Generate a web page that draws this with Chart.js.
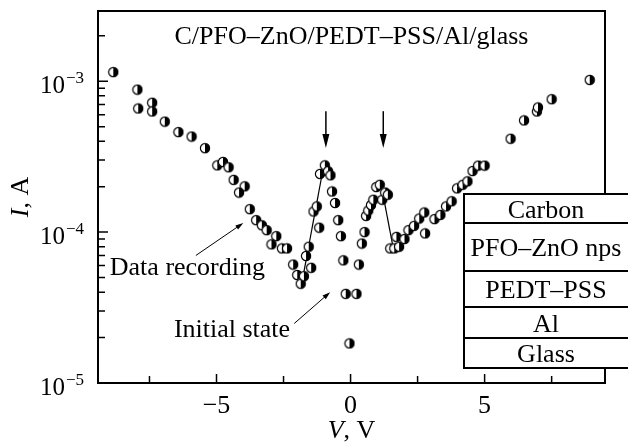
<!DOCTYPE html>
<html>
<head>
<meta charset="utf-8">
<script src="https://cdn.jsdelivr.net/npm/chart.js@4/dist/chart.umd.min.js"></script>
<style>
  body { margin: 0; background: #fff; }
  canvas { display: block; }
</style>
</head>
<body>
<canvas id="ivChart" width="628" height="443"></canvas>
<script>
  // I-V data (V in volts, I in amperes)
  const voltage = [
    -8.85, -7.95, -7.92, -7.40, -7.40, -6.93, -6.42, -5.93, -5.43, -4.97,
    -4.76, -4.55, -4.36, -3.95, -4.16, -3.76, -3.52, -3.31, -3.13, -2.77,
    -2.95, -2.56, -2.37, -2.14, -1.99, -1.86, -1.74, -1.47, -1.66, -1.56,
    -1.17, -1.38, -1.26, -1.14, -0.96, -0.84, -0.75, -0.69, -0.58, -0.46,
    -0.36, -0.27, -0.18, -0.04, 0.22, 0.31, 0.42, 0.52, 0.58, 0.66,
    0.76, 0.85, 0.96, 1.09, 1.18, 1.29, 1.39, 1.48, 1.63, 1.71,
    1.81, 2.01, 2.16, 2.37, 2.56, 2.75, 2.78, 3.13, 3.35, 3.56,
    3.77, 3.97, 4.18, 4.36, 4.55, 4.76, 5.00, 5.97, 6.47, 6.95,
    6.99, 7.50, 8.92
  ];
  const current = [
    1.15e-3, 8.8e-4, 6.6e-4, 7.2e-4, 6.3e-4, 5.4e-4, 4.6e-4, 4.3e-4, 3.6e-4, 2.77e-4,
    2.92e-4, 2.69e-4, 2.22e-4, 2.01e-4, 1.83e-4, 1.42e-4, 1.2e-4, 1.11e-4, 1.03e-4, 9.4e-5,
    8.3e-5, 7.8e-5, 7.8e-5, 6.1e-5, 5.2e-5, 4.55e-5, 5.1e-5, 5.8e-5, 6.95e-5, 8.0e-5,
    1.07e-4, 1.37e-4, 1.48e-4, 2.43e-4, 2.77e-4, 2.53e-4, 2.38e-4, 1.86e-4, 1.56e-4, 1.2e-4,
    9.4e-5, 6.5e-5, 3.9e-5, 1.83e-5, 3.9e-5, 6.1e-5, 8.4e-5, 1.0e-4, 1.28e-4, 1.39e-4,
    1.51e-4, 1.64e-4, 1.99e-4, 2.06e-4, 1.64e-4, 1.83e-4, 1.77e-4, 7.8e-5, 7.8e-5, 9.3e-5,
    8.0e-5, 9.0e-5, 1.03e-4, 1.1e-4, 1.23e-4, 1.35e-4, 9.8e-5, 1.22e-4, 1.3e-4, 1.48e-4,
    1.6e-4, 1.95e-4, 2.06e-4, 2.17e-4, 2.54e-4, 2.76e-4, 2.76e-4, 4.16e-4, 5.5e-4, 6.3e-4,
    6.7e-4, 7.6e-4, 1.02e-3
  ];

  // the two switching jumps drawn as straight segments
  const jumpUpV = [-1.74, -1.0];
  const jumpUpI = [5.45e-5, 2.77e-4];
  const jumpDownV = [1.25, 1.57];
  const jumpDownI = [1.63e-4, 8.2e-5];

  // axis ticks
  const xMajorTicks = [-5, 0, 5];
  const xMinorTicks = [-7.5, -2.5, 2.5, 7.5];
  const yDecades = [-5, -4, -3];

  // annotations
  const title = 'C/PFO–ZnO/PEDT–PSS/Al/glass';
  const peakArrowV = [-0.92, 1.22];
  const peakArrowI = [6.33e-4, 3.61e-4]; // tail, tip
  const notes = [
    { text: 'Data recording', v: -8.98, i: 5.18e-5, from: [-5.77, 7.0e-5], to: [-4.0, 1.15e-4] },
    { text: 'Initial state', v: -6.59, i: 2.01e-5, from: [-2.10, 2.48e-5], to: [-0.76, 4.0e-5] }
  ];
  const layers = ['Carbon', 'PFO–ZnO nps', 'PEDT–PSS', 'Al', 'Glass'];

  const serif = '"Liberation Serif", "Times New Roman", serif';

  function halfDot(r) {
    const c = document.createElement('canvas');
    const s = 2 * r + 2;
    c.width = s; c.height = s;
    const g = c.getContext('2d');
    const m = s / 2;
    g.fillStyle = '#fff';
    g.beginPath(); g.arc(m, m, r, 0, 2 * Math.PI); g.fill();
    g.fillStyle = '#000';
    g.beginPath(); g.moveTo(m, m); g.arc(m, m, r, -Math.PI / 2, Math.PI / 2); g.closePath(); g.fill();
    g.strokeStyle = '#000'; g.lineWidth = 1.2;
    g.beginPath(); g.arc(m, m, r - 0.4, 0, 2 * Math.PI); g.stroke();
    return c;
  }

  function arrow(ctx, x1, y1, x2, y2, len, half, lw) {
    const ang = Math.atan2(y2 - y1, x2 - x1);
    ctx.lineWidth = lw;
    ctx.beginPath();
    ctx.moveTo(x1, y1);
    ctx.lineTo(x2 - Math.cos(ang) * len * 0.6, y2 - Math.sin(ang) * len * 0.6);
    ctx.stroke();
    ctx.beginPath();
    ctx.moveTo(x2, y2);
    ctx.lineTo(x2 - Math.cos(ang) * len - Math.sin(ang) * half, y2 - Math.sin(ang) * len + Math.cos(ang) * half);
    ctx.lineTo(x2 - Math.cos(ang) * len + Math.sin(ang) * half, y2 - Math.sin(ang) * len - Math.cos(ang) * half);
    ctx.closePath();
    ctx.fill();
  }

  const decorations = {
    id: 'decorations',
    afterDraw(chart) {
      const { ctx, chartArea: a, scales: { x, y } } = chart;
      ctx.save();
      ctx.strokeStyle = '#000';
      ctx.fillStyle = '#000';

      // frame
      ctx.lineWidth = 2;
      ctx.strokeRect(a.left, a.top, a.right - a.left, a.bottom - a.top);

      // x ticks (inward)
      ctx.lineWidth = 1.5;
      ctx.beginPath();
      xMajorTicks.forEach(v => { const p = x.getPixelForValue(v); ctx.moveTo(p, a.bottom); ctx.lineTo(p, a.bottom - 9); });
      xMinorTicks.forEach(v => { const p = x.getPixelForValue(v); ctx.moveTo(p, a.bottom); ctx.lineTo(p, a.bottom - 7); });
      // y ticks (inward)
      yDecades.forEach(d => {
        for (let m = 1; m <= 9; m++) {
          const v = m * Math.pow(10, d);
          if (v > y.max) continue;
          const p = y.getPixelForValue(v);
          ctx.moveTo(a.left, p); ctx.lineTo(a.left + (m === 1 ? 10 : 7), p);
        }
      });
      ctx.stroke();

      // x tick labels
      ctx.font = '26px ' + serif;
      ctx.textAlign = 'center';
      ctx.textBaseline = 'alphabetic';
      xMajorTicks.forEach(v => {
        ctx.fillText(v < 0 ? '−' + Math.abs(v) : String(v), x.getPixelForValue(v), a.bottom + 30);
      });

      // y tick labels 10^d
      yDecades.forEach(d => {
        const p = y.getPixelForValue(Math.pow(10, d));
        ctx.font = '25px ' + serif;
        ctx.textAlign = 'right';
        ctx.fillText('10', a.left - 33, p + 12);
        ctx.font = '17px ' + serif;
        ctx.textAlign = 'left';
        ctx.fillText('−' + Math.abs(d), a.left - 32, p + 2);
      });

      // axis titles
      ctx.font = 'italic 26px ' + serif;
      const vW = ctx.measureText('V').width;
      ctx.font = '26px ' + serif;
      const restX = ', V';
      const rW = ctx.measureText(restX).width;
      let cx = (a.left + a.right) / 2 - (vW + rW) / 2;
      ctx.textAlign = 'left';
      ctx.font = 'italic 26px ' + serif;
      ctx.fillText('V', cx, 438);
      ctx.font = '26px ' + serif;
      ctx.fillText(restX, cx + vW, 438);

      ctx.save();
      ctx.translate(28, (a.top + a.bottom) / 2);
      ctx.rotate(-Math.PI / 2);
      ctx.font = 'italic 26px ' + serif;
      const iW = ctx.measureText('I').width;
      ctx.font = '26px ' + serif;
      const restY = ', A';
      const aW = ctx.measureText(restY).width;
      const sy = -(iW + aW) / 2;
      ctx.font = 'italic 26px ' + serif;
      ctx.fillText('I', sy, 0);
      ctx.font = '26px ' + serif;
      ctx.fillText(restY, sy + iW, 0);
      ctx.restore();

      // title
      ctx.font = '26px ' + serif;
      ctx.textAlign = 'center';
      ctx.fillText(title, (a.left + a.right) / 2, a.top + 33);

      // peak arrows
      ctx.lineWidth = 1.5;
      peakArrowV.forEach(v => {
        const px = x.getPixelForValue(v);
        arrow(ctx, px, y.getPixelForValue(peakArrowI[0]), px, y.getPixelForValue(peakArrowI[1]), 14, 3.5, 1.5);
      });

      // notes
      notes.forEach(n => {
        ctx.font = '26px ' + serif;
        ctx.textAlign = 'left';
        ctx.fillText(n.text, x.getPixelForValue(n.v), y.getPixelForValue(n.i));
        arrow(ctx,
          x.getPixelForValue(n.from[0]), y.getPixelForValue(n.from[1]),
          x.getPixelForValue(n.to[0]), y.getPixelForValue(n.to[1]), 8, 2.5, 1);
      });

      // device layer stack
      const bl = 464, br = 640;
      const rows = [194, 223, 271, 307, 338, 368];
      ctx.fillStyle = '#fff';
      ctx.fillRect(bl, rows[0], br - bl, rows[rows.length - 1] - rows[0]);
      ctx.lineWidth = 2;
      ctx.strokeRect(bl, rows[0], br - bl, rows[rows.length - 1] - rows[0]);
      ctx.beginPath();
      rows.slice(1, -1).forEach(r => { ctx.moveTo(bl, r); ctx.lineTo(br, r); });
      ctx.stroke();
      ctx.fillStyle = '#000';
      ctx.font = '26px ' + serif;
      ctx.textAlign = 'center';
      layers.forEach((t, k) => {
        ctx.fillText(t, (bl + 628) / 2, (rows[k] + rows[k + 1]) / 2 + 9);
      });

      ctx.restore();
    }
  };

  const points = voltage.map((v, k) => ({ x: v, y: current[k] }));
  const dot = halfDot(5);

  new Chart(document.getElementById('ivChart'), {
    type: 'scatter',
    data: {
      datasets: [{
        data: points,
        pointStyle: dot,
        pointRadius: 5,
        order: 0
      }, {
        data: jumpUpV.map((v, k) => ({ x: v, y: jumpUpI[k] })),
        showLine: true,
        borderColor: '#000',
        borderWidth: 1.2,
        pointRadius: 0,
        order: 1
      }, {
        data: jumpDownV.map((v, k) => ({ x: v, y: jumpDownI[k] })),
        showLine: true,
        borderColor: '#000',
        borderWidth: 1.2,
        pointRadius: 0,
        order: 1
      }]
    },
    options: {
      responsive: false,
      animation: false,
      layout: { padding: { left: 98, right: 23, top: 11, bottom: 60 } },
      plugins: { legend: { display: false }, tooltip: { enabled: false } },
      scales: {
        x: { type: 'linear', min: -9.42, max: 9.49, display: false },
        y: { type: 'logarithmic', min: 1e-5, max: 2.92e-3, display: false }
      }
    },
    plugins: [decorations]
  });
</script>
</body>
</html>
